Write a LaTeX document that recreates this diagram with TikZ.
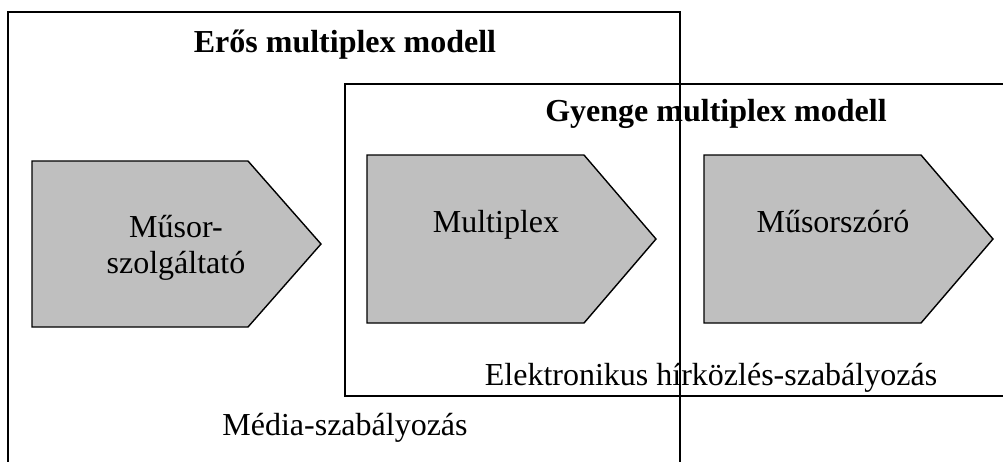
\documentclass[tikz,border=0pt]{standalone}
\usepackage{fontspec}
\setmainfont{Liberation Serif}
\begin{document}
\begin{tikzpicture}[x=1pt,y=-1pt,
  frame/.style={draw=black,line width=1.8pt},
  pent/.style={draw=black,fill=gray!50!white,line width=1.4pt,line join=miter},
  lbl/.style={anchor=base,inner sep=0pt,font=\fontsize{32}{36}\selectfont},
  ttl/.style={anchor=base,inner sep=0pt,font=\fontsize{32}{36}\selectfont\bfseries}]
\useasboundingbox (0,0) rectangle (1003,461);
\clip (0,0) rectangle (1003,461);
\fill[white] (0,0) rectangle (1003,461);
% pentagon shapes
\draw[pent] (32,161) -- (248,161) -- (321,244) -- (248,327) -- (32,327) -- cycle;
\draw[pent] (367,155) -- (584,155) -- (656,239) -- (584,323) -- (367,323) -- cycle;
\draw[pent] (704,155) -- (921,155) -- (993,239) -- (921,323) -- (704,323) -- cycle;
% labels
\node[lbl] (ms1) at (176,237) {Műsor-};
\node[lbl] (ms2) at (176,273) {szolgáltató};
\node[lbl] (mpx) at (496,232) {Multiplex};
\node[lbl] (msz) at (833,232) {Műsorszóró};
\node[ttl] (eros) at (345,52) {Erős multiplex modell};
\node[ttl] (gyenge) at (716,121) {Gyenge multiplex modell};
\node[lbl] (elek) at (711,385) {Elektronikus hírközlés-szabályozás};
\node[lbl] (media) at (345,435) {Média-szabályozás};
% frames
\draw[frame] (8,480) -- (8,12) -- (680,12) -- (680,480);
\draw[frame] (1020,84) -- (345,84) -- (345,396) -- (1020,396);
\end{tikzpicture}
\end{document}
